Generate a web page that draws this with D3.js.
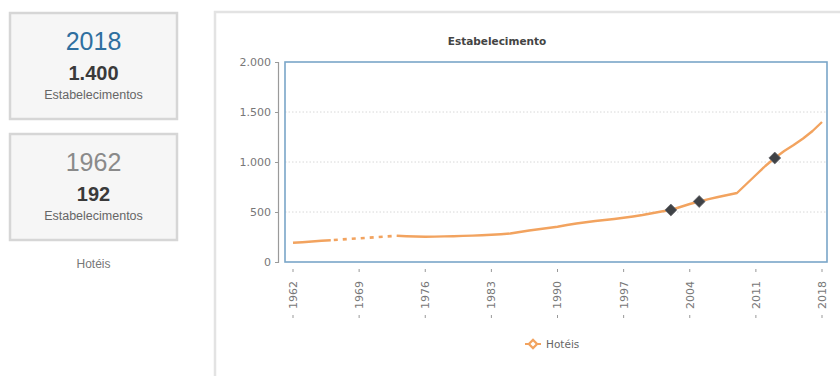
<!DOCTYPE html>
<html>
<head>
<meta charset="utf-8">
<script src="https://cdn.jsdelivr.net/npm/d3@7/dist/d3.min.js"></script>
<style>
  html, body { margin: 0; padding: 0; background: #fff; }
  svg { display: block; }
</style>
</head>
<body>
<svg id="chart" width="840" height="376"></svg>
<script>
// Hotel establishments per year (null = no record for that year)
const years = [1962,1963,1964,1965,1966,1967,1968,1969,1970,1971,1972,1973,1974,1975,1976,1977,1978,1979,1980,
  1981,1982,1983,1984,1985,1986,1987,1988,1989,1990,1991,1992,1993,1994,1995,1996,1997,1998,1999,2000,
  2001,2002,2003,2004,2005,2006,2007,2008,2009,2010,2011,2012,2013,2014,2015,2016,2017,2018];
const hotels = [192,198,205,212,218,null,null,null,null,null,null,262,258,255,253,254,256,258,261,
  264,268,272,278,285,300,315,328,340,352,370,385,398,410,420,430,442,455,470,488,
  505,520,550,580,605,628,650,670,690,780,870,960,1040,1110,1170,1235,1310,1400];
const highlightYears = [2002, 2005, 2013];
const xTickYears = [1962,1969,1976,1983,1990,1997,2004,2011,2018];
const yTickValues = [0, 500, 1000, 1500, 2000];
const seriesName = "Hotéis";
const unitLabel = "Estabelecimentos";
const chartTitle = "Estabelecimento";

const pt = d3.formatLocale({ decimal: ",", thousands: ".", grouping: [3], currency: ["R$", ""] });
const fmt = pt.format(",d");

const svg = d3.select("#chart");

// ---- summary cards ----
const pts = years.map((y, i) => ({ year: y, value: hotels[i] })).filter(d => d.value != null);
const last = pts[pts.length - 1], first = pts[0];
const cards = [
  { y: 13, h: 106, data: last, color: "#2f6f9f" },
  { y: 134, h: 106, data: first, color: "#8a8a8a" }
];
const cardX = 10, cardW = 167, cardCx = cardX + cardW / 2;
cards.forEach(c => {
  svg.append("rect").attr("x", cardX).attr("y", c.y).attr("width", cardW).attr("height", c.h)
    .attr("fill", "#f6f6f6").attr("stroke", "#d6d6d6").attr("stroke-width", 2.5);
  svg.append("text").attr("x", cardCx).attr("y", c.y + 37).attr("text-anchor", "middle")
    .attr("font-family", "Liberation Sans, Arial, sans-serif").attr("font-size", 25)
    .attr("fill", c.color).text(c.data.year);
  svg.append("text").attr("x", cardCx).attr("y", c.y + 67).attr("text-anchor", "middle")
    .attr("font-family", "Liberation Sans, Arial, sans-serif").attr("font-size", 20)
    .attr("font-weight", "bold").attr("fill", "#3a3a3a").text(fmt(c.data.value));
  svg.append("text").attr("x", cardCx).attr("y", c.y + 86).attr("text-anchor", "middle")
    .attr("font-family", "Liberation Sans, Arial, sans-serif").attr("font-size", 12.5)
    .attr("fill", "#666").text(unitLabel);
});
svg.append("text").attr("x", cardCx).attr("y", 268).attr("text-anchor", "middle")
  .attr("font-family", "Liberation Sans, Arial, sans-serif").attr("font-size", 12)
  .attr("fill", "#777").text(seriesName);

// ---- chart panel ----
svg.append("rect").attr("x", 215).attr("y", 12).attr("width", 700).attr("height", 420)
  .attr("fill", "#fff").attr("stroke", "#e3e3e3").attr("stroke-width", 2.5);

svg.append("text").attr("x", 497).attr("y", 45).attr("text-anchor", "middle")
  .attr("font-family", "DejaVu Sans, Verdana, sans-serif").attr("font-size", 10.5)
  .attr("font-weight", "bold").attr("fill", "#444").text(chartTitle);

const plot = { left: 285, right: 827, top: 62, bottom: 262 };
const x = d3.scaleLinear().domain([1962, 2018]).range([293, 822]);
const y = d3.scaleLinear().domain([0, 2000]).range([plot.bottom, plot.top]);

// grid lines
svg.append("g").selectAll("line").data(yTickValues.filter(v => v > 0 && v < 2000)).join("line")
  .attr("x1", plot.left).attr("x2", plot.right)
  .attr("y1", d => y(d)).attr("y2", d => y(d))
  .attr("stroke", "#d8d8d8").attr("stroke-width", 1).attr("stroke-dasharray", "1.5,2");

// plot frame
svg.append("rect").attr("x", plot.left).attr("y", plot.top)
  .attr("width", plot.right - plot.left).attr("height", plot.bottom - plot.top)
  .attr("fill", "none").attr("stroke", "#7aa6c8").attr("stroke-width", 1.6);

// y axis
const yAxis = d3.axisLeft(y).tickValues(yTickValues).tickFormat(fmt).tickSize(3).tickPadding(4);
const gy = svg.append("g").attr("transform", "translate(278,0)").call(yAxis);
gy.select(".domain").attr("stroke", "#9a9a9a").attr("stroke-width", 1.2);
gy.selectAll(".tick line").attr("stroke", "#9a9a9a");
gy.selectAll("text").attr("font-family", "DejaVu Sans, Verdana, sans-serif")
  .attr("font-size", 11).attr("fill", "#777");

// x axis: rotated year labels with small marks above and below
const gx = svg.append("g");
const xt = gx.selectAll("g").data(xTickYears).join("g")
  .attr("transform", d => `translate(${x(d)},0)`);
xt.append("line").attr("y1", 269).attr("y2", 272).attr("stroke", "#999");
xt.append("line").attr("y1", 315).attr("y2", 318).attr("stroke", "#999");
xt.append("text").attr("transform", "translate(0,281) rotate(-90)")
  .attr("text-anchor", "end").attr("dy", "0.36em")
  .attr("font-family", "DejaVu Sans, Verdana, sans-serif").attr("font-size", 11)
  .attr("fill", "#777").text(d => d);

// series line: solid where data is present, dashed across the gap
const series = years.map((yr, i) => ({ year: yr, value: hotels[i] }));
const line = d3.line().defined(d => d.value != null).x(d => x(d.year)).y(d => y(d.value));
const gapLine = d3.line().x(d => x(d.year)).y(d => y(d.value));
const gaps = [];
for (let i = 1; i < series.length; i++) {
  if (series[i].value != null && series[i - 1].value == null) {
    let j = i - 1;
    while (j >= 0 && series[j].value == null) j--;
    if (j >= 0) gaps.push([series[j], series[i]]);
  }
}
const orange = "#f2a35f";
svg.append("g").selectAll("path").data(gaps).join("path")
  .attr("d", gapLine).attr("fill", "none").attr("stroke", orange)
  .attr("stroke-width", 2.6).attr("stroke-dasharray", "4,5").attr("stroke-dashoffset", -3);
svg.append("path").datum(series).attr("d", line).attr("fill", "none")
  .attr("stroke", orange).attr("stroke-width", 2.4).attr("stroke-linejoin", "round");

// highlighted points
const diamond = d3.symbol().type(d3.symbolSquare).size(70);
svg.append("g").selectAll("path")
  .data(series.filter(d => highlightYears.includes(d.year)))
  .join("path")
  .attr("transform", d => `translate(${x(d.year)},${y(d.value)}) rotate(45)`)
  .attr("d", diamond).attr("fill", "#3f4246").attr("stroke", "#6a6c70").attr("stroke-width", 0.8);

// legend
const lg = svg.append("g").attr("transform", "translate(533,344)");
lg.append("line").attr("x1", -8).attr("x2", 8).attr("stroke", orange).attr("stroke-width", 2);
lg.append("path").attr("d", d3.symbol().type(d3.symbolSquare).size(34)()).attr("transform", "rotate(45)")
  .attr("fill", "#fff").attr("stroke", orange).attr("stroke-width", 2.2);
lg.append("text").attr("x", 13).attr("dy", "0.35em")
  .attr("font-family", "DejaVu Sans, Verdana, sans-serif").attr("font-size", 10.5)
  .attr("fill", "#666").text(seriesName);
</script>
</body>
</html>
